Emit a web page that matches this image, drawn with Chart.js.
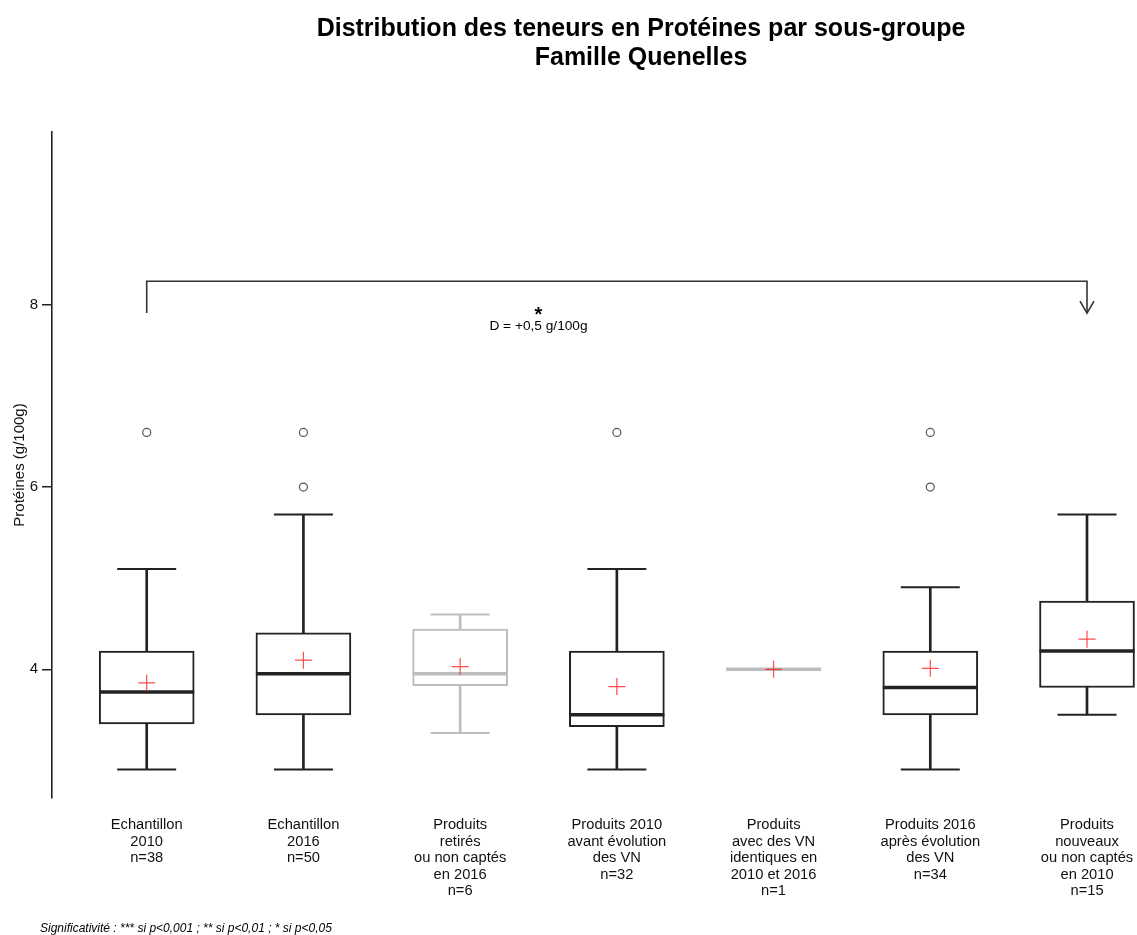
<!DOCTYPE html>
<html>
<head>
<meta charset="utf-8">
<title>Distribution des teneurs en Protéines par sous-groupe</title>
<script src="https://cdn.jsdelivr.net/npm/chart.js@4.4.1/dist/chart.umd.min.js"></script>
<style>
	body { margin: 0; background: #fff; }
	#wrap { position: relative; width: 1137px; height: 935px; }
</style>
</head>
<body>
<div id="wrap"><canvas id="mycanvas"></canvas></div>
<script>
// groups and counts (n)
var groups = [
	["Echantillon", "2010"],
	["Echantillon", "2016"],
	["Produits", "retirés", "ou non captés", "en 2016"],
	["Produits 2010", "avant évolution", "des VN"],
	["Produits", "avec des VN", "identiques en", "2010 et 2016"],
	["Produits 2016", "après évolution", "des VN"],
	["Produits", "nouveaux", "ou non captés", "en 2010"]
];
var counts = [38, 50, 6, 32, 1, 34, 15];

// box plot statistics, g/100g
var whiskerLow  = [2.9, 2.9, 3.3, 2.9, 4.0, 2.9, 3.5];
var q1          = [3.4, 3.5, 3.82, 3.37, 4.0, 3.5, 3.8];
var medians     = [3.75, 3.95, 3.95, 3.5, 4.0, 3.8, 4.2];
var q3          = [4.2, 4.4, 4.44, 4.2, 4.0, 4.2, 4.75];
var whiskerHigh = [5.1, 5.7, 4.6, 5.1, 4.0, 4.9, 5.7];
var means       = [3.85, 4.1, 4.03, 3.81, 4.0, 4.01, 4.33];
var outliers    = [[6.6], [6.0, 6.6], [], [6.6], [], [6.0, 6.6], []];

var yTicks = [4, 6, 8];

// comparison test between two groups
var testFrom = [1];
var testTo = [7];
var testStars = ["*"];
var testDiff = ["D = +0,5 g/100g"];

var titleLines = ["Distribution des teneurs en Protéines par sous-groupe", "Famille Quenelles"];
var footnote = "Significativité : *** si p<0,001 ; ** si p<0,01 ; * si p<0,05";

var FONT = '"Liberation Sans", Arial, sans-serif';
Chart.defaults.font.family = FONT;
Chart.defaults.color = '#222';

var ink = '#222';
var faded = '#bdbdbd';
function colorOf(i) { return counts[i] < 10 ? faded : ink; }

var xs = groups.map(function(g, i) { return i + 1; });
var xLabels = groups.map(function(g, i) { return g.concat(["n=" + counts[i]]); });
var colors = xs.map(function(x, i) { return colorOf(i); });

var meanPts = xs.map(function(x, i) { return {x: x, y: means[i]}; });
var medianPts = xs.map(function(x, i) { return {x: x, y: medians[i]}; });
var capPts = [], capColors = [];
xs.forEach(function(x, i) {
	capPts.push({x: x, y: whiskerLow[i]}); capColors.push(colors[i]);
	capPts.push({x: x, y: whiskerHigh[i]}); capColors.push(colors[i]);
});
var outPts = [];
outliers.forEach(function(list, i) {
	list.forEach(function(v) { outPts.push({x: i + 1, y: v}); });
});
var boxData = xs.map(function(x, i) { return {x: x, y: [q1[i], q3[i]]}; });
var whiskerData = xs.map(function(x, i) { return {x: x, y: [whiskerLow[i], whiskerHigh[i]]}; });

var annotations = {
	id: 'annotations',
	afterDraw: function(chart) {
		var ctx = chart.ctx, sx = chart.scales.x, sy = chart.scales.y;
		ctx.save();
		ctx.fillStyle = '#000';
		ctx.textAlign = 'center';
		ctx.textBaseline = 'alphabetic';
		ctx.font = 'bold 25px ' + FONT;
		ctx.fillText(titleLines[0], 641, 36);
		ctx.fillText(titleLines[1], 641, 65);

		ctx.strokeStyle = '#333';
		ctx.lineWidth = 1.6;
		for (var t = 0; t < testFrom.length; t++) {
			var x1 = sx.getPixelForValue(testFrom[t]);
			var x2 = sx.getPixelForValue(testTo[t]);
			var yTop = sy.getPixelForValue(8.26);
			var yFoot = sy.getPixelForValue(7.91);
			ctx.beginPath();
			ctx.moveTo(x1, yFoot);
			ctx.lineTo(x1, yTop);
			ctx.lineTo(x2, yTop);
			ctx.lineTo(x2, yFoot);
			ctx.stroke();
			ctx.beginPath();
			ctx.moveTo(x2 - 7, yFoot - 12);
			ctx.lineTo(x2, yFoot);
			ctx.lineTo(x2 + 7, yFoot - 12);
			ctx.stroke();

			var xl = sx.getPixelForValue((testFrom[t] + testTo[t]) / 2 - 0.5);
			ctx.font = 'bold 20px ' + FONT;
			ctx.fillText(testStars[t], xl, 321);
			ctx.font = '13.7px ' + FONT;
			ctx.fillText(testDiff[t], xl, 330);
		}

		ctx.textAlign = 'left';
		ctx.font = 'italic 12px ' + FONT;
		ctx.fillText(footnote, 40, 932);
		ctx.restore();
	}
};

var ctx = document.getElementById('mycanvas');

var BoxChart = new Chart(ctx, {
	type: 'bar',
	data: {
		datasets: [
			{
				type: 'scatter',
				label: 'Moyenne',
				data: meanPts,
				pointStyle: 'cross',
				pointRadius: 8.5,
				pointBorderWidth: 1.2,
				pointBorderColor: 'rgba(255, 30, 30, 0.8)'
			},
			{
				type: 'scatter',
				label: 'Médiane',
				data: medianPts,
				pointStyle: 'line',
				pointRadius: 47.5,
				pointBorderWidth: 3.5,
				pointBorderColor: colors
			},
			{
				type: 'scatter',
				label: 'Moustaches',
				data: capPts,
				pointStyle: 'line',
				pointRadius: 29.5,
				pointBorderWidth: 2,
				pointBorderColor: capColors
			},
			{
				type: 'scatter',
				label: 'Valeurs extrêmes',
				data: outPts,
				pointStyle: 'circle',
				pointRadius: 4,
				pointBorderWidth: 1.2,
				pointBorderColor: '#555',
				pointBackgroundColor: '#fff'
			},
			{
				label: 'Boîtes',
				data: boxData,
				grouped: false,
				barThickness: 95,
				borderWidth: 2,
				borderSkipped: false,
				borderColor: colors,
				backgroundColor: '#fff'
			},
			{
				label: 'Étendue',
				data: whiskerData,
				grouped: false,
				barThickness: 2,
				borderWidth: 0,
				backgroundColor: colors
			}
		]
	},
	options: {
		responsive: true,
		maintainAspectRatio: false,
		animation: false,
		events: [],
		layout: {
			autoPadding: false,
			padding: { top: 132, left: 0, right: 0, bottom: 0 }
		},
		plugins: {
			legend: { display: false },
			tooltip: { enabled: false }
		},
		scales: {
			x: {
				type: 'linear',
				min: 0.3957,
				max: 7.319,
				offset: false,
				grid: { display: false },
				border: { display: false },
				afterBuildTicks: function(scale) {
					scale.ticks = xs.map(function(v) { return {value: v}; });
				},
				afterFit: function(scale) {
					scale.height = 137;
					scale.paddingLeft = 0;
					scale.paddingRight = 0;
				},
				ticks: {
					autoSkip: false,
					maxRotation: 0,
					padding: 11,
					color: '#111',
					font: { size: 14.7, lineHeight: 1.12 },
					callback: function(value, index) { return xLabels[index]; }
				}
			},
			y: {
				type: 'linear',
				min: 2.587,
				max: 9.898,
				beginAtZero: false,
				afterBuildTicks: function(scale) {
					scale.ticks = yTicks.map(function(v) { return {value: v}; });
				},
				afterFit: function(scale) {
					scale.width = 52;
					scale.paddingTop = 0;
					scale.paddingBottom = 0;
				},
				grid: {
					drawOnChartArea: false,
					drawTicks: true,
					tickLength: 10,
					color: ink,
					lineWidth: 1.5
				},
				border: { display: true, color: ink, width: 1.6 },
				ticks: {
					padding: 4,
					color: '#111',
					font: { size: 15 }
				},
				title: {
					display: true,
					text: 'Protéines (g/100g)',
					color: '#111',
					font: { size: 15 },
					padding: { top: 11, bottom: 0 }
				}
			}
		}
	},
	plugins: [annotations]
});
</script>
</body>
</html>
